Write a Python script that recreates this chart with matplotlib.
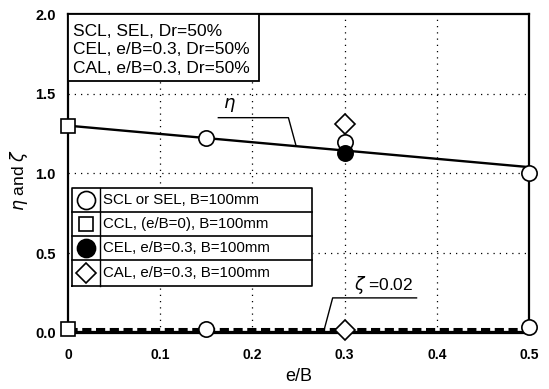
import matplotlib
matplotlib.use("Agg")
import matplotlib.pyplot as plt
from matplotlib.patches import Rectangle

plt.rcParams['font.family'] = ['Liberation Sans', 'DejaVu Sans']

# data
eta_line_x = [0.0, 0.5]
eta_line_y = [1.30, 1.04]
zeta_line_x = [0.0, 0.5]
zeta_line_y = [0.025, 0.025]
zeta_solid_y = [0.01, 0.01]

scl_x = [0.15, 0.3, 0.5]
scl_eta = [1.225, 1.195, 1.0]
scl_zeta_x = [0.15, 0.5]
scl_zeta = [0.025, 0.04]
ccl_x = [0.0]
ccl_eta = [1.30]
ccl_zeta = [0.025]
cel_x = [0.3]
cel_eta = [1.13]
cal_x = [0.3]
cal_eta = [1.31]
cal_zeta = [0.02]

fig = plt.figure(figsize=(5.49, 3.89), dpi=100)
ax = fig.add_axes([0.124, 0.144, 0.8396, 0.82])
ax.set_xlim(0, 0.5)
ax.set_ylim(0, 2.0)

for x in [0.1, 0.2, 0.3, 0.4]:
    ax.axvline(x, color='black', lw=0.9, ls=(0, (1, 4)), zorder=1)
for y in [0.5, 1.0, 1.5]:
    ax.axhline(y, color='black', lw=0.9, ls=(0, (1, 4)), zorder=1)

ax.plot(eta_line_x, eta_line_y, color='black', lw=1.7, zorder=3, clip_on=False)
ax.plot(zeta_line_x, zeta_solid_y, color='black', lw=0.9, zorder=3, clip_on=False)
ax.plot(zeta_line_x, zeta_line_y, color='black', lw=2.2, ls=(0, (3, 1.5)), zorder=3, clip_on=False)

ms = 11
ax.plot(scl_x, scl_eta, 'o', ms=ms, mfc='white', mec='black', mew=1.2, zorder=5, clip_on=False)
ax.plot(scl_zeta_x, scl_zeta, 'o', ms=ms, mfc='white', mec='black', mew=1.2, zorder=5, clip_on=False)
ax.plot(ccl_x, ccl_eta, 's', ms=10, mfc='white', mec='black', mew=1.2, zorder=5, clip_on=False)
ax.plot(ccl_x, ccl_zeta, 's', ms=10, mfc='white', mec='black', mew=1.2, zorder=5, clip_on=False)
ax.plot(cel_x, cel_eta, 'o', ms=ms, mfc='black', mec='black', mew=1.2, zorder=6, clip_on=False)
ax.plot(cal_x, cal_eta, 'D', ms=10, mfc='white', mec='black', mew=1.2, zorder=5, clip_on=False)
ax.plot(cal_x, cal_zeta, 'D', ms=10, mfc='white', mec='black', mew=1.2, zorder=5, clip_on=False)

# annotations
ax.text(0.168, 1.37, r'$\eta$', fontsize=13, ha='left', va='bottom')
ax.plot([0.163, 0.239, 0.247], [1.35, 1.35, 1.18], color='black', lw=1.0, zorder=4)
ax.text(0.31, 0.23, r'$\zeta$ =0.02', fontsize=12.5, ha='left', va='bottom')
ax.plot([0.278, 0.287, 0.378], [0.025, 0.22, 0.22], color='black', lw=1.0, zorder=4)

# top box
ax.add_patch(Rectangle((0, 1.58), 0.207, 0.42, fc='white', ec='black', lw=1.3, zorder=7))
ax.text(0.005, 1.775, 'SCL, SEL, Dr=50%\nCEL, e/B=0.3, Dr=50%\nCAL, e/B=0.3, Dr=50%',
        fontsize=12.5, ha='left', va='center', linespacing=1.32, zorder=8)

# legend table
lx0, lx1, lxr = 0.004, 0.035, 0.265
rows = [0.91, 0.76, 0.61, 0.46, 0.295]
ax.fill([lx0, lxr, lxr, lx0], [rows[-1], rows[-1], rows[0], rows[0]], color='white', zorder=7)
ax.plot([lx0, lxr, lxr, lx0, lx0], [rows[-1], rows[-1], rows[0], rows[0], rows[-1]], color='black', lw=1.2, zorder=8)
for r in rows[1:-1]:
    ax.plot([lx0, lxr], [r, r], color='black', lw=1.2, zorder=8)
ax.plot([lx1, lx1], [rows[-1], rows[0]], color='black', lw=1.0, zorder=8)
labels = ['SCL or SEL, B=100mm', 'CCL, (e/B=0), B=100mm', 'CEL, e/B=0.3, B=100mm', 'CAL, e/B=0.3, B=100mm']
markers = [('o', 'white'), ('s', 'white'), ('o', 'black'), ('D', 'white')]
for i, (lab, (m, fc)) in enumerate(zip(labels, markers)):
    yc = (rows[i] + rows[i + 1]) / 2
    ax.plot([(lx0 + lx1) / 2], [yc], m, ms=13 if m == 'o' else 10.5, mfc=fc, mec='black', mew=1.2, zorder=9)
    ax.text(lx1 + 0.003, yc, lab, fontsize=10.8, ha='left', va='center', zorder=9)

ax.set_xticks([0, 0.1, 0.2, 0.3, 0.4, 0.5])
ax.set_xticklabels(['0', '0.1', '0.2', '0.3', '0.4', '0.5'])
ax.set_yticks([0, 0.5, 1.0, 1.5, 2.0])
ax.set_yticklabels(['0.0', '0.5', '1.0', '1.5', '2.0'])
ax.tick_params(axis='x', length=0, labelsize=10, pad=11)
ax.tick_params(axis='y', length=0, labelsize=10.5, pad=9)
for t in ax.get_xticklabels() + ax.get_yticklabels():
    t.set_fontweight('bold')
for s in ax.spines.values():
    s.set_linewidth(1.6)
ax.set_xlabel('e/B', fontsize=13, labelpad=4)
ax.set_ylabel(r'$\eta$ and $\zeta$', fontsize=12.5)
ax.yaxis.set_label_coords(-0.082, 0.48)

fig.savefig('out.png', dpi=100)
